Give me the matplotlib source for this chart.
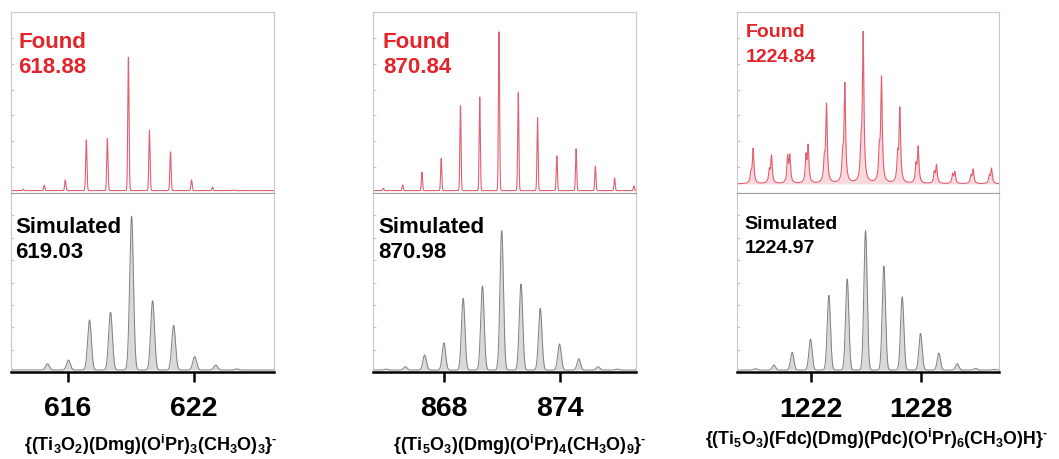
import numpy as np
import matplotlib
matplotlib.use('Agg')
import matplotlib.pyplot as plt

plt.rcParams['font.family'] = ['Liberation Sans', 'DejaVu Sans']
plt.rcParams['font.weight'] = 'bold'
plt.rcParams['mathtext.fontset'] = 'custom'
plt.rcParams['mathtext.rm'] = 'Liberation Sans:bold'
plt.rcParams['mathtext.it'] = 'Liberation Sans:bold'
plt.rcParams['mathtext.bf'] = 'Liberation Sans:bold'
plt.rcParams['mathtext.default'] = 'rm'

# Виміряні (Found) та змодельовані (Simulated) ізотопні розподіли
found1_mz = [613.88, 614.88, 615.88, 616.88, 617.88, 618.88, 619.88, 620.88, 621.88, 622.88, 623.88]
found1_int = [0.01, 0.04, 0.08, 0.38, 0.39, 1.0, 0.45, 0.29, 0.08, 0.025, 0.005]
sim1_mz = [615.03, 616.03, 617.03, 618.03, 619.03, 620.03, 621.03, 622.03, 623.03, 624.03]
sim1_int = [0.04, 0.065, 0.325, 0.375, 1.0, 0.45, 0.29, 0.087, 0.032, 0.007]

found2_mz = [864.84, 865.84, 866.84, 867.84, 868.84, 869.84, 870.84, 871.84, 872.84, 873.84, 874.84,
             875.84, 876.84, 877.84]
found2_int = [0.015, 0.036, 0.116, 0.202, 0.535, 0.59, 1.0, 0.617, 0.461, 0.219, 0.263, 0.154, 0.08, 0.03]
sim2_mz = [864.98, 865.98, 866.98, 867.98, 868.98, 869.98, 870.98, 871.98, 872.98, 873.98, 874.98,
           875.98, 876.98]
sim2_int = [0.007, 0.024, 0.108, 0.196, 0.514, 0.603, 1.0, 0.617, 0.443, 0.187, 0.081, 0.024, 0.007]

found3_mz = [1218.84, 1219.84, 1220.84, 1221.84, 1222.84, 1223.84, 1224.84, 1225.84, 1226.84, 1227.84,
             1228.84, 1229.84, 1230.84, 1231.84]
found3_int = [0.233, 0.184, 0.179, 0.244, 0.525, 0.661, 1.0, 0.70, 0.496, 0.24, 0.121, 0.076, 0.094, 0.10]
found3_shoulder = [0.06, 0.08, 0.17, 0.17, 0.13, 0.15, 0.19, 0.18, 0.16, 0.11, 0.07, 0.06, 0.05, 0.05]
sim3_mz = [1218.97, 1219.97, 1220.97, 1221.97, 1222.97, 1223.97, 1224.97, 1225.97, 1226.97, 1227.97,
           1228.97, 1229.97, 1230.97, 1231.97]
sim3_int = [0.01, 0.036, 0.127, 0.222, 0.536, 0.653, 1.0, 0.746, 0.526, 0.263, 0.122, 0.045, 0.012, 0.005]

found_labels = ['618.88', '870.84', '1224.84']
sim_labels = ['619.03', '870.98', '1224.97']
tick_pos = [[616, 622], [868, 874], [1222, 1228]]
xlims = [(613.3, 625.8), (864.3, 877.95), (1217.96, 1232.25)]
captions = [r'{(Ti$_3$O$_2$)(Dmg)(O$^i$Pr)$_3$(CH$_3$O)$_3$}$^{\text{-}}$',
            r'{(Ti$_5$O$_3$)(Dmg)(O$^i$Pr)$_4$(CH$_3$O)$_9$}$^{\text{-}}$',
            r'{(Ti$_5$O$_3$)(Fdc)(Dmg)(Pdc)(O$^i$Pr)$_6$(CH$_3$O)H}$^{\text{-}}$']


def profile(x, centers, heights, width, kind='gauss'):
    y = np.zeros_like(x)
    for c, h in zip(centers, heights):
        if kind == 'gauss':
            y += h * np.exp(-0.5 * ((x - c) / width) ** 2)
        else:
            y += h * width ** 2 / ((x - c) ** 2 + width ** 2)
    return y


fig = plt.figure(figsize=(10.59, 4.59), dpi=100)
W, H = 1059, 459
lefts = [11, 373, 737]
widths = [263, 263, 262]
red = '#e3242b'
frame = '#c8c8c8'

found = [(found1_mz, found1_int), (found2_mz, found2_int), (found3_mz, found3_int)]
sims = [(sim1_mz, sim1_int), (sim2_mz, sim2_int), (sim3_mz, sim3_int)]
top_ylims = [(-0.018, 1.339), (-0.015, 1.125), (-0.061, 1.158)]
bot_ylims = [(-0.013, 1.15), (-0.014, 1.27), (-0.014, 1.27)]
found_txt = [(0.027, 0.80, 0.663, 16), (0.038, 0.80, 0.663, 16), (0.034, 0.862, 0.724, 14)]
sim_txt = [(0.015, 0.777, 0.637, 16), (0.02, 0.777, 0.637, 16), (0.03, 0.80, 0.665, 14)]
tick_pad = [10, 10, 11]
cap_x = [151, 520, 876]
cap_y = [445, 445, 439]
cap_fs = [13, 13, 12.8]

for i in range(3):
    l = lefts[i] / W
    w = widths[i] / W
    ax_t = fig.add_axes([l, 1 - 193 / H, w, 181 / H])
    ax_b = fig.add_axes([l, 1 - 372 / H, w, 179 / H])
    x = np.linspace(xlims[i][0], xlims[i][1], 4000)

    mz, inten = found[i]
    if i == 2:
        y = profile(x, mz, inten, 0.05, 'lorentz')
        y += profile(x, np.array(mz) - 0.12, found3_shoulder, 0.045, 'lorentz')
        ax_t.fill_between(x, 0, y, color='#fbd9dd', lw=0)
        ax_t.plot(x, y, color='#e06070', lw=0.8)
    else:
        y = profile(x, mz, inten, 0.03)
        ax_t.plot(x, y, color='#e06070', lw=0.8)
    ax_t.set_xlim(xlims[i])
    ax_t.set_ylim(top_ylims[i])
    ax_t.set_xticks([])
    ax_t.set_yticks(np.linspace(top_ylims[i][0], top_ylims[i][1], 8)[1:-1])
    ax_t.tick_params(axis='y', direction='in', length=2, color=frame, labelleft=False)
    for s in ax_t.spines.values():
        s.set_color(frame)
    ax_t.spines['bottom'].set_color('#a0a0a0')
    fx, fy1, fy2, fs = found_txt[i]
    ax_t.text(fx, fy1, 'Found', color=red, fontsize=fs, fontweight='bold', transform=ax_t.transAxes)
    ax_t.text(fx, fy2, found_labels[i], color=red, fontsize=fs, fontweight='bold', transform=ax_t.transAxes)

    mz, inten = sims[i]
    y = profile(x, mz, inten, 0.09)
    ax_b.fill_between(x, 0, y, color='#d9d9d9', lw=0)
    ax_b.plot(x, y, color='#7f7f7f', lw=0.7)
    ax_b.set_xlim(xlims[i])
    ax_b.set_ylim(bot_ylims[i])
    ax_b.set_yticks(np.linspace(bot_ylims[i][0], bot_ylims[i][1], 9)[1:-1])
    ax_b.tick_params(axis='y', direction='in', length=2, color=frame, labelleft=False)
    ax_b.set_xticks(tick_pos[i])
    ax_b.tick_params(axis='x', direction='out', length=7, width=1.8, pad=tick_pad[i], labelsize=20.5)
    for lab in ax_b.get_xticklabels():
        lab.set_fontweight('bold')
    for s in ['left', 'right', 'top']:
        ax_b.spines[s].set_color(frame)
    ax_b.spines['top'].set_color('#a0a0a0')
    ax_b.spines['bottom'].set_linewidth(1.8)
    ax_b.spines['bottom'].set_color('black')
    sx, sy1, sy2, fs = sim_txt[i]
    ax_b.text(sx, sy1, 'Simulated', color='black', fontsize=fs, fontweight='bold', transform=ax_b.transAxes)
    ax_b.text(sx, sy2, sim_labels[i], color='black', fontsize=fs, fontweight='bold', transform=ax_b.transAxes)

    fig.text(cap_x[i] / W, 1 - cap_y[i] / H, captions[i], ha='center', va='center',
             fontsize=cap_fs[i], fontweight='bold')

fig.savefig('out.png', dpi=100)
